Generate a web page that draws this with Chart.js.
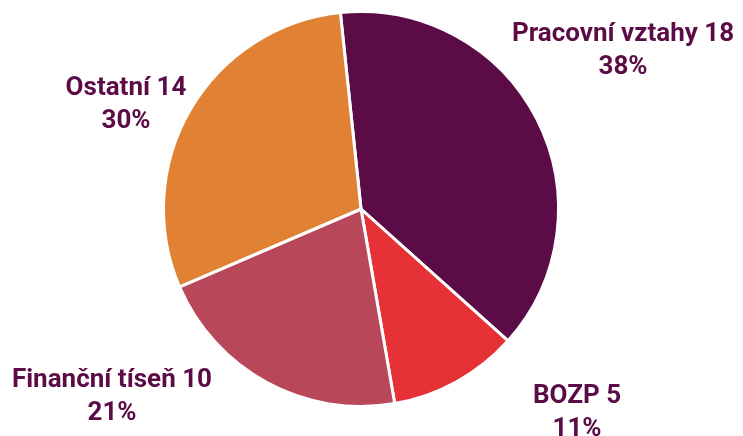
<!DOCTYPE html>
<html>
<head>
<meta charset="utf-8">
<script src="https://cdn.jsdelivr.net/npm/chart.js@4"></script>
<style>
  html, body { margin: 0; padding: 0; background: #ffffff; }
  #wrap { width: 743px; height: 436px; position: relative; }
</style>
</head>
<body>
<div id="wrap"><canvas id="pie"></canvas></div>
<script>
// data
const categories = ['Pracovní vztahy', 'BOZP', 'Finanční tíseň', 'Ostatní'];
const counts = [18, 5, 10, 14];
const sliceColors = ['#5b0c46', '#e63236', '#b9475a', '#e08133'];

const total = counts.reduce((a, b) => a + b, 0);

// label anchors, relative to the pie centre (px)
const labelOffsets = [[262, -168], [216, 194], [-249, 178], [-235, -114]];

const outsideLabels = {
    id: 'outsideLabels',
    afterDatasetsDraw(chart) {
        const ctx = chart.ctx;
        const arc = chart.getDatasetMeta(0).data[0];
        const cx = arc.x, cy = arc.y;
        ctx.save();
        ctx.fillStyle = '#5b0c46';
        ctx.font = "bold 26px 'Roboto', sans-serif";
        ctx.textAlign = 'center';
        ctx.textBaseline = 'alphabetic';
        categories.forEach((name, i) => {
            const x = cx + labelOffsets[i][0];
            const y = cy + labelOffsets[i][1];
            const pct = Math.round(counts[i] / total * 100);
            ctx.fillText(name + ' ' + counts[i], x, y);
            ctx.fillText(pct + '%', x, y + 33);
        });
        ctx.restore();
    }
};

new Chart(document.getElementById('pie').getContext('2d'), {
    type: 'pie',
    data: {
        labels: categories,
        datasets: [{
            data: counts,
            backgroundColor: sliceColors,
            borderColor: '#ffffff',
            borderWidth: 3
        }]
    },
    options: {
        responsive: true,
        maintainAspectRatio: false,
        animation: false,
        rotation: -6,
        layout: {
            padding: { top: 10, bottom: 28, left: 162, right: 183 }
        },
        plugins: {
            legend: { display: false },
            tooltip: { enabled: false }
        }
    },
    plugins: [outsideLabels]
});
</script>
</body>
</html>
